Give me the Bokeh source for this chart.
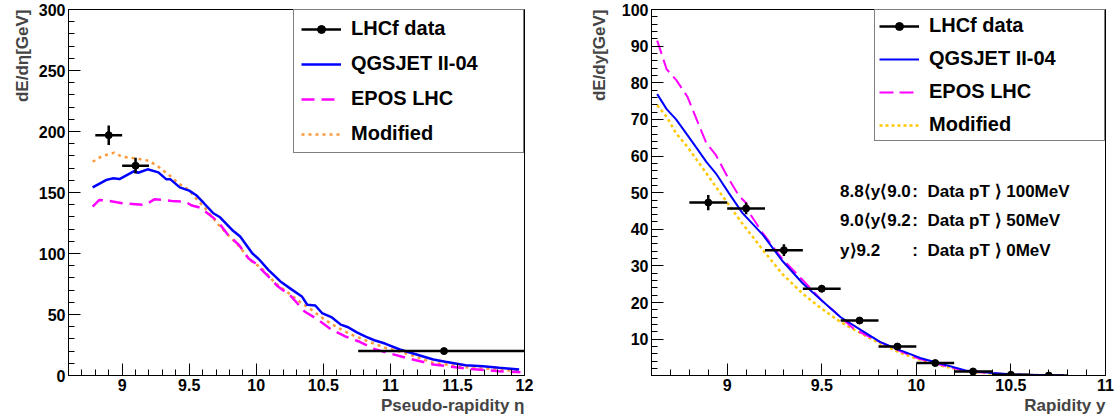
from bokeh.plotting import figure
from bokeh.models import (Legend, LegendItem, SingleIntervalTicker, Title, Label,
                          PrintfTickFormatter)
from bokeh.layouts import row
from bokeh.embed import file_html
from bokeh.resources import INLINE

FONT = "Liberation Sans"

# ---------------- Left panel: dE/deta vs pseudo-rapidity ----------------
eta_data = [8.9, 9.1, 11.4]
eta_data_lo = [8.8, 9.0, 10.76]
eta_data_hi = [9.0, 9.2, 12.04]
dEdeta_data = [197, 172, 20]
dEdeta_err = [8, 6.4, 0]

eta_qgs = [8.78, 8.88, 8.93, 8.98, 9.09, 9.12, 9.19, 9.27, 9.33, 9.36, 9.43, 9.50, 9.55,
           9.61, 9.68, 9.73, 9.82, 9.88, 9.97, 10.02, 10.09, 10.18, 10.26, 10.34, 10.38,
           10.44, 10.49, 10.56, 10.63, 10.68, 10.75, 10.82, 10.88, 10.96, 11.07, 11.17,
           11.32, 11.41, 11.56, 11.69, 11.81, 11.96]
dEdeta_qgs = [154.2, 160.2, 161.6, 161.0, 167.6, 166.2, 169.0, 166.5, 160.8, 160.8, 154.2,
              151.5, 148.0, 141.2, 133.0, 129.7, 119.3, 113.9, 100.2, 95.3, 86.6, 77.1,
              70.8, 64.8, 58.0, 57.4, 51.2, 47.9, 41.7, 39.8, 35.4, 31.6, 28.9, 26.2,
              21.3, 18.0, 13.1, 11.2, 8.4, 7.6, 6.3, 4.9]

eta_epos = [8.78, 8.83, 8.90, 9.00, 9.10, 9.17, 9.24, 9.30, 9.37, 9.47, 9.52, 9.58, 9.67,
            9.72, 9.79, 9.87, 9.94, 9.99, 10.09, 10.16, 10.26, 10.36, 10.46, 10.56, 10.66,
            10.76, 10.88, 10.96, 11.12, 11.32, 11.56, 11.81, 11.97]
dEdeta_epos = [138.4, 143.9, 143.1, 141.2, 140.4, 139.8, 144.4, 143.9, 143.1, 142.5, 139.3,
               137.6, 130.2, 125.4, 115.2, 107.1, 96.2, 92.2, 81.2, 73.1, 64.9, 52.5, 45.8,
               37.6, 32.2, 28.1, 21.8, 19.2, 14.4, 9.0, 5.7, 3.5, 2.7]

eta_mod = [8.78, 8.85, 8.94, 9.00, 9.10, 9.20, 9.27, 9.35, 9.42, 9.50, 9.55, 9.62, 9.72,
           9.79, 9.87, 9.95, 10.04, 10.14, 10.24, 10.33, 10.41, 10.51, 10.61, 10.71, 10.83,
           10.96, 11.12, 11.32, 11.56, 11.81, 11.97]
dEdeta_mod = [175.2, 179.8, 182.6, 179.3, 178.0, 176.0, 171.1, 164.3, 157.5, 152.0, 145.2,
              137.0, 123.4, 115.2, 106.3, 94.9, 88.0, 75.8, 67.6, 60.0, 54.0, 45.8, 39.0,
              33.5, 28.1, 22.8, 18.0, 10.4, 6.8, 4.9, 3.5]

# ---------------- Right panel: dE/dy vs rapidity ----------------
y_data = [8.9, 9.1, 9.3, 9.5, 9.7, 9.9, 10.1, 10.3, 10.5, 10.7]
y_data_lo = [8.8, 9.0, 9.2, 9.4, 9.6, 9.8, 10.0, 10.2, 10.4, 10.6]
y_data_hi = [9.0, 9.2, 9.4, 9.6, 9.8, 10.0, 10.2, 10.4, 10.6, 10.8]
dEdy_data = [47.3, 45.7, 34.3, 23.8, 15.1, 8.0, 3.5, 1.2, 0.3, 0.1]
dEdy_err = [2.1, 1.6, 1.6, 1.0, 0.5, 0.4, 0.3, 0.2, 0.1, 0.05]

y_qgs = [8.63, 8.68, 8.73, 8.79, 8.84, 8.89, 8.94, 9.01, 9.08, 9.19, 9.29, 9.40, 9.50,
         9.60, 9.71, 9.81, 9.92, 10.02, 10.13, 10.26, 10.40, 10.52, 10.78]
dEdy_qgs = [76.9, 72.8, 70.0, 65.7, 62.1, 58.4, 55.3, 49.8, 44.5, 38.4, 31.5, 25.2, 20.6,
            16.0, 12.4, 9.2, 6.9, 4.9, 3.3, 1.5, 0.8, 0.35, 0.1]

y_epos = [8.63, 8.68, 8.73, 8.79, 8.84, 8.89, 8.94, 9.00, 9.06, 9.10, 9.12, 9.19, 9.29,
          9.40, 9.50, 9.57, 9.67, 9.81, 9.92, 10.02, 10.13, 10.26, 10.40, 10.52, 10.78]
dEdy_epos = [91.5, 83.7, 80.8, 76.2, 69.8, 63.5, 60.3, 54.5, 49.3, 47.2, 44.3, 38.8, 32.0,
             26.1, 20.6, 17.4, 12.8, 9.2, 6.6, 4.6, 3.0, 1.3, 0.7, 0.3, 0.1]

y_mod = [8.63, 8.68, 8.73, 8.79, 8.84, 8.89, 8.94, 9.01, 9.08, 9.19, 9.29, 9.40, 9.50,
         9.60, 9.71, 9.81, 9.92, 10.02, 10.13, 10.26, 10.40, 10.52, 10.78]
dEdy_mod = [73.9, 70.7, 66.2, 62.5, 58.9, 55.3, 51.6, 46.6, 41.6, 34.3, 27.9, 22.4, 18.3,
            14.7, 11.5, 8.8, 6.2, 4.4, 2.8, 1.3, 0.6, 0.3, 0.1]

legend_labels = ["LHCf data", "QGSJET II-04", "EPOS LHC", "Modified"]
cut_left = ["8.8\u27e8y\u27e89.0", "9.0\u27e8y\u27e89.2", "y\u27e99.2"]
cut_right = [":\u00a0\u00a0Data pT \u27e9 100MeV", ":\u00a0\u00a0Data pT \u27e9 50MeV",
             ":\u00a0\u00a0Data pT \u27e9 0MeV"]


def style(p, xint, yint):
    p.outline_line_color = "black"
    p.outline_line_width = 1
    p.xgrid.visible = False
    p.ygrid.visible = False
    p.background_fill_color = "white"
    p.border_fill_color = "white"
    p.xaxis.ticker = SingleIntervalTicker(interval=xint, num_minor_ticks=5)
    p.yaxis.ticker = SingleIntervalTicker(interval=yint, num_minor_ticks=5)
    for ax in (p.xaxis[0], p.yaxis[0]):
        ax.formatter = PrintfTickFormatter(format="%g")
        ax.major_tick_in = 12
        ax.major_tick_out = 0
        ax.minor_tick_in = 6
        ax.minor_tick_out = 0
        ax.axis_line_color = "black"
        ax.axis_line_width = 1
        ax.major_tick_line_color = "black"
        ax.minor_tick_line_color = "black"
        ax.major_label_text_font = FONT
        ax.major_label_text_font_style = "bold"
        ax.major_label_text_font_size = "16px"
        ax.major_label_text_color = "black"
        ax.major_label_standoff = 3


def titles(p, xtitle, ytitle, ystandoff):
    tx = Title(text=xtitle, align="right", text_font=FONT, text_font_style="bold",
               text_font_size="17px", standoff=0, offset=0)
    p.add_layout(tx, "below")
    ty = Title(text=ytitle, align="right", text_font=FONT, text_font_style="bold",
               text_font_size="17px", standoff=ystandoff, offset=0)
    p.add_layout(ty, "left")


def data_marks(p, x, xlo, xhi, yv, yerr):
    hseg = p.segment(x0=xlo, y0=yv, x1=xhi, y1=yv, line_color="black", line_width=2.5)
    ylo = [a - b for a, b in zip(yv, yerr)]
    yhi = [a + b for a, b in zip(yv, yerr)]
    p.segment(x0=x, y0=ylo, x1=x, y1=yhi, line_color="black", line_width=2.5)
    pts = p.scatter(x=x, y=yv, marker="circle", size=7, fill_color="black", line_color="black")
    return [hseg, pts]


def make_legend(p, items, padding, spacing):
    lg = Legend(items=items, location="top_right", margin=0, padding=padding,
                spacing=spacing, glyph_width=40, glyph_height=20, label_height=20,
                label_width=229 - 2 * padding - 40 - 10, label_standoff=10,
                label_text_font=FONT, label_text_font_style="bold",
                label_text_font_size="20px", label_text_color="black",
                border_line_color="black", border_line_width=1,
                background_fill_color="white", background_fill_alpha=1)
    p.add_layout(lg)


# ---------------- Left figure ----------------
p1 = figure(width=577, height=418, x_range=(8.6, 12), y_range=(0, 300),
            output_backend="svg", toolbar_location=None,
            min_border_left=68, min_border_right=53, min_border_top=9, min_border_bottom=42)
style(p1, 0.5, 50)
titles(p1, "Pseudo-rapidity \u03b7", "dE/d\u03b7[GeV]", 8)

r_mod1 = p1.line(eta_mod, dEdeta_mod, line_color="#ff9a3c", line_width=2.5, line_dash="3 4")
r_epos1 = p1.line(eta_epos, dEdeta_epos, line_color="#ff00ff", line_width=2.5, line_dash="13 7")
r_qgs1 = p1.line(eta_qgs, dEdeta_qgs, line_color="#0000ff", line_width=2.5)
d1 = data_marks(p1, eta_data, eta_data_lo, eta_data_hi, dEdeta_data, dEdeta_err)

make_legend(p1, [LegendItem(label=legend_labels[0], renderers=d1),
                 LegendItem(label=legend_labels[1], renderers=[r_qgs1]),
                 LegendItem(label=legend_labels[2], renderers=[r_epos1]),
                 LegendItem(label=legend_labels[3], renderers=[r_mod1])], 7, 12)

# ---------------- Right figure ----------------
p2 = figure(width=538, height=418, x_range=(8.6, 11), y_range=(0.1, 100),
            output_backend="svg", toolbar_location=None,
            min_border_left=70, min_border_right=10, min_border_top=9, min_border_bottom=43)
style(p2, 0.5, 10)
titles(p2, "Rapidity y", "dE/dy[GeV]", 20)

r_mod2 = p2.line(y_mod, dEdy_mod, line_color="#ffc800", line_width=2.5, line_dash="3 3")
r_epos2 = p2.line(y_epos, dEdy_epos, line_color="#ff00ff", line_width=2, line_dash="14 6")
r_qgs2 = p2.line(y_qgs, dEdy_qgs, line_color="#0000ff", line_width=2)
d2 = data_marks(p2, y_data, y_data_lo, y_data_hi, dEdy_data, dEdy_err)

make_legend(p2, [LegendItem(label=legend_labels[0], renderers=d2),
                 LegendItem(label=legend_labels[1], renderers=[r_qgs2]),
                 LegendItem(label=legend_labels[2], renderers=[r_epos2]),
                 LegendItem(label=legend_labels[3], renderers=[r_mod2])], 4, 10)

line_y = [50.2, 42.3, 34.3]
for i in range(3):
    p2.add_layout(Label(x=9.597, y=line_y[i], text=cut_left[i], text_baseline="middle",
                        text_align="left", text_font=FONT, text_font_style="bold",
                        text_font_size="17px", text_color="black"))
    p2.add_layout(Label(x=9.979, y=line_y[i], text=cut_right[i], text_baseline="middle",
                        text_align="left", text_font=FONT, text_font_style="bold",
                        text_font_size="17px", text_color="black"))

layout = row(p1, p2)
open("out.html", "w").write(file_html(layout, INLINE))
